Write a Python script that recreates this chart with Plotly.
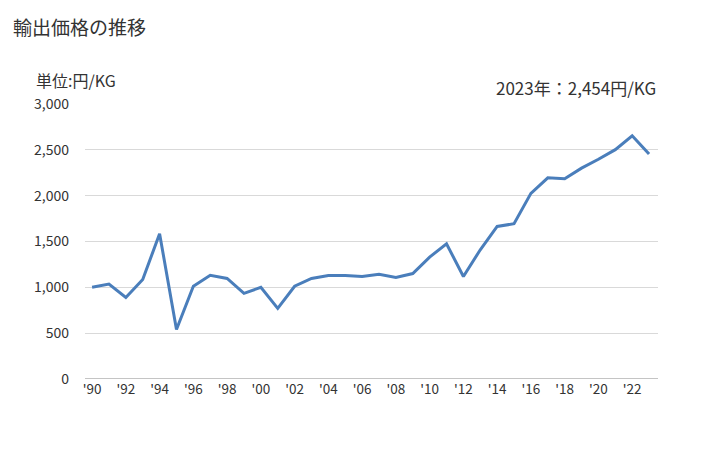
import plotly.graph_objects as go

years = list(range(1990, 2024))
prices = [1000, 1035, 890, 1085, 1585, 540, 1012, 1132, 1097, 935,
          1000, 770, 1012, 1097, 1130, 1130, 1118, 1142, 1108, 1150,
          1330, 1475, 1118, 1410, 1664, 1694, 2025, 2195, 2184, 2300,
          2397, 2502, 2654, 2454]
tick_years = list(range(1990, 2023, 2))
tick_labels = ["'" + str(y)[2:] for y in tick_years]
y_ticks = [0, 500, 1000, 1500, 2000, 2500, 3000]
y_labels = ["0", "500", "1,000", "1,500", "2,000", "2,500", "3,000"]

W, H = 720, 442
L, T, R, B = 77, 96, 70, 71
PW, PH = W - L - R, H - T - B

fig = go.Figure()
fig.add_trace(go.Scatter(x=years, y=prices, mode="lines",
                         line=dict(color="#4a7ebb", width=3), hoverinfo="skip"))

font = "Meiryo, 'Noto Sans CJK JP', sans-serif"
fig.update_layout(
    width=W, height=H,
    margin=dict(l=L, r=R, t=T, b=B, autoexpand=False),
    paper_bgcolor="white", plot_bgcolor="white",
    showlegend=False,
    font=dict(family=font, color="#333333", size=13),
    xaxis=dict(range=[1989.58, 2023.53], tickmode="array", tickvals=tick_years,
               ticktext=tick_labels, showgrid=False, zeroline=False,
               showline=False, ticks="", tickfont=dict(size=13.5, color="#333333")),
    yaxis=dict(range=[0, 3000], tickmode="array", tickvals=y_ticks, ticktext=y_labels,
               showgrid=True, gridcolor="#d9d9d9", gridwidth=1, zeroline=False,
               showline=False, ticks="", ticklabelstandoff=15,
               tickfont=dict(size=14, color="#333333")),
    shapes=[dict(type="line", xref="paper", yref="y", x0=0, x1=1, y0=0, y1=0,
                 line=dict(color="#888888", width=1))],
    annotations=[
        dict(text="輸出価格の推移", xref="paper", yref="paper", x=(3 - L) / PW, y=1 + (T - 19) / PH,
             xanchor="left", yanchor="middle", showarrow=False,
             font=dict(size=19, color="#333333")),
        dict(text="単位:円/KG", xref="paper", yref="paper", x=(26 - L) / PW, y=1 + (T - 72) / PH,
             xanchor="left", yanchor="middle", showarrow=False,
             font=dict(size=16, color="#333333")),
        dict(text="2023年：2,454円/KG", xref="paper", yref="paper", x=1, y=1 + (T - 79) / PH,
             xanchor="right", yanchor="middle", showarrow=False,
             font=dict(size=17, color="#333333")),
    ],
)
fig.write_html("out.html")
